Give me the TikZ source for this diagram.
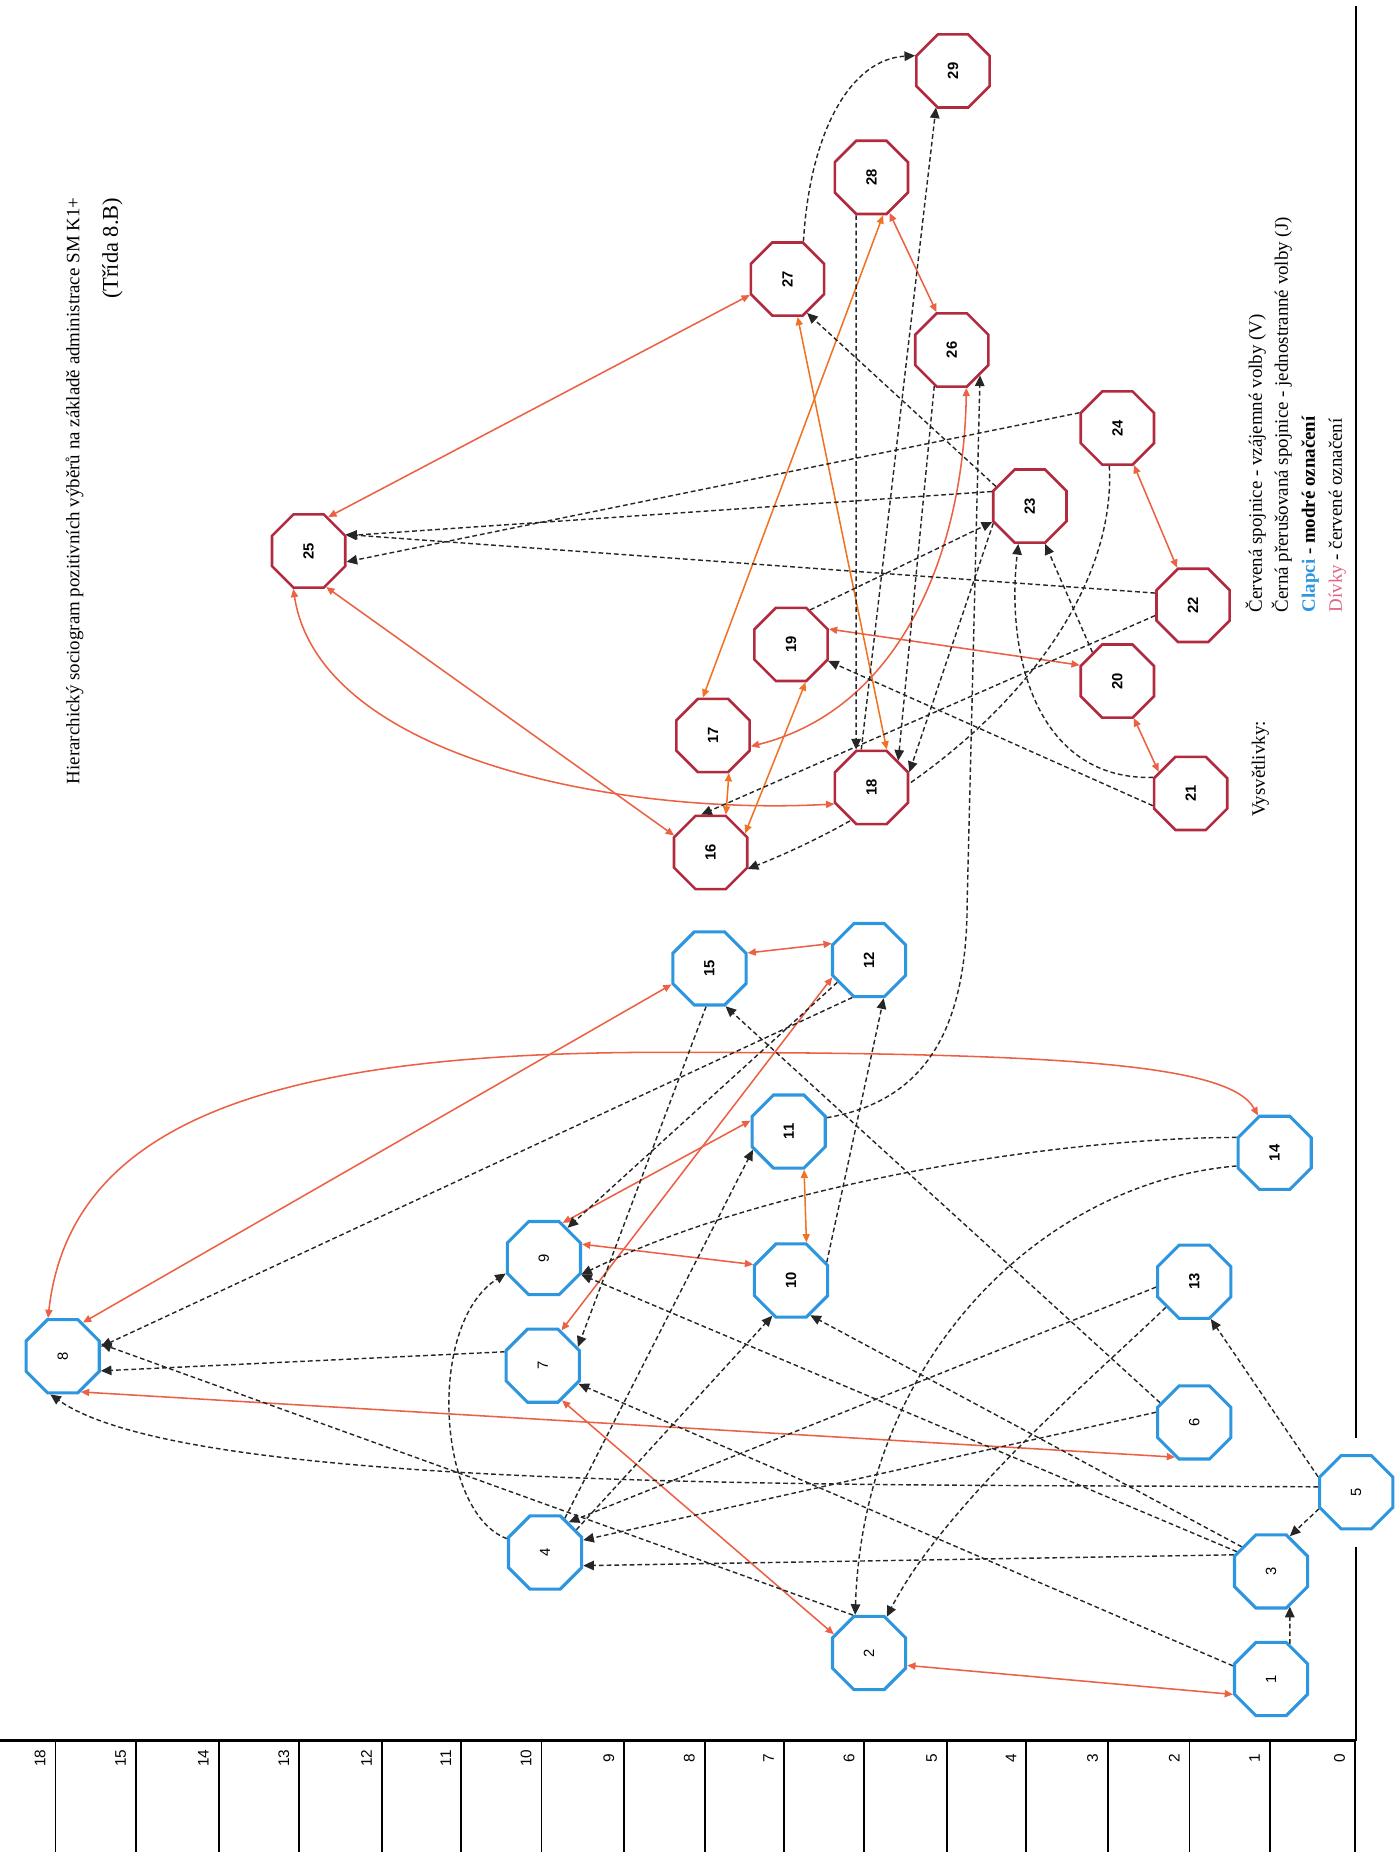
\documentclass[tikz,border=0pt]{standalone}
\usepackage{fontspec}
\setmainfont{Liberation Serif}
\newfontfamily\numfont{Liberation Sans}
\usepackage{graphicx}
\usetikzlibrary{shapes.geometric,arrows.meta}
\definecolor{boyc}{RGB}{45,150,222}
\definecolor{girlc}{RGB}{178,42,62}
\definecolor{mutc}{RGB}{236,96,68}
\definecolor{mutd}{RGB}{240,115,35}
\definecolor{pinkc}{RGB}{222,100,130}
\newcommand{\numlab}[1]{\rotatebox{90}{\numfont\fontsize{12.5}{13}\selectfont #1}}
\newcommand{\numlabb}[1]{\rotatebox{90}{\numfont\bfseries\fontsize{12.5}{13}\selectfont #1}}
\pgfdeclarelayer{bg}
\pgfsetlayers{bg,main}
\tikzset{
 oct/.style={regular polygon, regular polygon sides=8, minimum size=67pt, inner sep=0pt, fill=white},
 boy/.style={oct, draw=boyc, line width=2.6pt},
 girl/.style={oct, draw=girlc, line width=2.2pt},
 mutual/.style={draw=mutc, line width=1.3pt, {Triangle[length=7pt,width=6pt]}-{Triangle[length=7pt,width=6pt]}},
 onew/.style={draw=black!85, line width=1.2pt, dash pattern=on 4pt off 2.5pt, -{Triangle[length=9pt,width=8pt]}},
 rtext/.style={rotate=90, anchor=west, inner sep=0pt, font=\fontsize{16}{18}\selectfont},
 ticklab/.style={rotate=90, inner sep=0pt, font=\numfont\fontsize{13}{14}\selectfont},
}
\begin{document}
\begin{tikzpicture}[x=1pt,y=-1pt]
\useasboundingbox (0,0) rectangle (1182,1568);

% boys
\node[boy] (n1) at (1075,1420) {\numlab{1}};
\node[boy] (n2) at (735,1398) {\numlab{2}};
\node[boy] (n3) at (1075,1329) {\numlab{3}};
\node[boy] (n4) at (461,1313) {\numlab{4}};
\node[boy] (n5) at (1147,1262) {\numlab{5}};
\node[boy] (n6) at (1010,1203) {\numlab{6}};
\node[boy] (n7) at (459,1155) {\numlab{7}};
\node[boy] (n8) at (53,1147) {\numlab{8}};
\node[boy] (n9) at (460,1064) {\numlab{9}};
\node[boy] (n10) at (669,1083) {\numlabb{10}};
\node[boy] (n11) at (667,957) {\numlabb{11}};
\node[boy] (n12) at (735,812) {\numlabb{12}};
\node[boy] (n13) at (1010,1084) {\numlabb{13}};
\node[boy] (n14) at (1078,975) {\numlabb{14}};
\node[boy] (n15) at (600,819) {\numlabb{15}};
% girls
\node[girl] (n16) at (601,721) {\numlabb{16}};
\node[girl] (n17) at (603,622) {\numlabb{17}};
\node[girl] (n18) at (737,666) {\numlabb{18}};
\node[girl] (n19) at (669,545) {\numlabb{19}};
\node[girl] (n20) at (945,576) {\numlabb{20}};
\node[girl] (n21) at (1007,671) {\numlabb{21}};
\node[girl] (n22) at (1009,512) {\numlabb{22}};
\node[girl] (n23) at (871,428) {\numlabb{23}};
\node[girl] (n24) at (945,362) {\numlabb{24}};
\node[girl] (n25) at (261,466) {\numlabb{25}};
\node[girl] (n26) at (805,296) {\numlabb{26}};
\node[girl] (n27) at (666,236) {\numlabb{27}};
\node[girl] (n28) at (737,150) {\numlabb{28}};
\node[girl] (n29) at (806,60) {\numlabb{29}};

\begin{pgfonlayer}{bg}
% mutual choices
\draw[mutual] (n1.202) -- (n2.342);
\draw[mutual] (n2.152) -- (n7.299);
\draw[mutual] (n8.297) -- (n6.241);
\draw[mutual] (n8.111) .. controls (60,940) and (250,890) .. (560,890) .. controls (900,890) and (1040,900) .. (n14.114);
\draw[mutual] (n8.59) -- (n15.203);
\draw[mutual] (n9.62) -- (n11.164);
\draw[mutual] (n9.20) -- (n10.157);
\draw[mutual] (n7.62) -- (n12.205);
\draw[mutual, draw=mutd] (n10.68) -- (n11.292);
\draw[mutual] (n15.22) -- (n12.156);
\draw[mutual] (n25.60) -- (n27.203);
\draw[mutual] (n25.296) -- (n16.155);
\draw[mutual] (n25.248) .. controls (270,640) and (520,690) .. (n18.204);
\draw[mutual, draw=mutd] (n16.68) -- (n17.293);
\draw[mutual, draw=mutd] (n16.29) -- (n19.291);
\draw[mutual, draw=mutd] (n17.105) -- (n28.287);
\draw[mutual, draw=mutd] (n27.285) -- (n18.68);
\draw[mutual] (n28.297) -- (n26.112);
\draw[mutual] (n26.291) .. controls (815,470) and (760,600) .. (n17.344);
\draw[mutual] (n19.22) -- (n20.157);
\draw[mutual] (n20.294) -- (n21.146);
\draw[mutual] (n24.294) -- (n22.113);
% one-way choices, boys
\draw[onew] (n1.62) -- (n3.298);
\draw[onew] (n5.204) -- (n3.62);
\draw[onew] (n5.158) -- (n13.294);
\draw[onew] (n5.172) .. controls (700,1255) and (160,1262) .. (n8.252);
\draw[onew] (n6.165) -- (n4.18);
\draw[onew] (n3.156) -- (n4.341);
\draw[onew] (n13.188) -- (n4.52);
\draw[onew] (n1.161) -- (n7.333);
\draw[onew] (n3.150) -- (n9.336);
\draw[onew] (n3.140) -- (n10.299);
\draw[onew] (n2.113) -- (n8.18);
\draw[onew] (n14.199) .. controls (880,1000) and (730,1150) .. (n2.110);
\draw[onew] (n13.222) .. controls (930,1160) and (800,1270) .. (n2.64);
\draw[onew] (n6.150) -- (n15.293);
\draw[onew] (n14.158) .. controls (900,962) and (650,1000) .. (n9.336);
\draw[onew] (n4.160) .. controls (370,1280) and (360,1120) .. (n9.202);
\draw[onew] (n7.160) -- (n8.339);
\draw[onew] (n12.246) -- (n8.14);
\draw[onew] (n12.215) -- (n9.52);
\draw[onew] (n15.265) -- (n7.28);
\draw[onew] (n4.36) -- (n10.242);
\draw[onew] (n4.60) -- (n11.207);
\draw[onew] (n10.27) -- (n12.291);
\draw[onew] (n11.20) .. controls (790,930) and (818,860) .. (818,761) -- (n26.318);
% one-way choices, girls
\draw[onew] (n23.159) -- (n25.22);
\draw[onew] (n22.162) -- (n25.24);
\draw[onew] (n24.158) -- (n25.344);
\draw[onew] (n23.150) -- (n27.300);
\draw[onew] (n27.67) .. controls (685,110) and (720,50) .. (n29.158);
\draw[onew] (n18.105) -- (n29.245);
\draw[onew] (n28.248) -- (n18.112);
\draw[onew] (n26.244) -- (n18.45);
\draw[onew] (n23.205) -- (n18.22);
\draw[onew] (n19.61) -- (n23.203);
\draw[onew] (n21.157) .. controls (880,660) and (850,560) .. (n23.253);
\draw[onew] (n20.131) -- (n23.292);
\draw[onew] (n21.198) -- (n19.336);
\draw[onew] (n22.195) -- (n16.104);
\draw[onew] (n24.258) .. controls (945,520) and (820,660) .. (n16.336);
\end{pgfonlayer}

% frame and scale
\draw[line width=1.6pt] (1147,5) -- (1147,1216);
\draw[line width=1.6pt] (1147,1308) -- (1147,1472);
\draw[line width=2.2pt] (0,1472) -- (1147,1472);
\foreach \x/\l in {47/18,115/15,185/14,253/13,323/12,390/11,458/10,528/9,596/8,663/7,731/6,801/5,868/4,937/3,1006/2,1074/1,1146/0}{
  \draw[line width=1.5pt] (\x,1472) -- (\x,1566);
  \node[ticklab] (t\l) at (\x-13,1487) {\l};
}

% title
\node[rotate=90, anchor=east, inner sep=0pt, font=\fontsize{16}{19}\selectfont] (title) at (63,167) {Hierarchický sociogram pozitivních výběrů na základě administrace SM K1+};
\node[rotate=90, anchor=east, inner sep=0pt, font=\fontsize{19}{21}\selectfont] (title2) at (95,167) {(Třída 8.B)};

% legend
\node[rtext] (vys) at (1066,691) {Vysvětlivky:};
\node[rtext] (lg1) at (1062,518) {Červená spojnice - vzájemné volby (V)};
\node[rtext] (lg2) at (1084,518) {Černá přerušovaná spojnice - jednostranné volby (J)};
\node[rtext] (lg3) at (1108,518) {\textbf{\textcolor{boyc}{Clapci} - modré označení}};
\node[rtext] (lg4) at (1131,518) {\textcolor{pinkc}{Dívky} - červené označení};
\end{tikzpicture}
\end{document}
